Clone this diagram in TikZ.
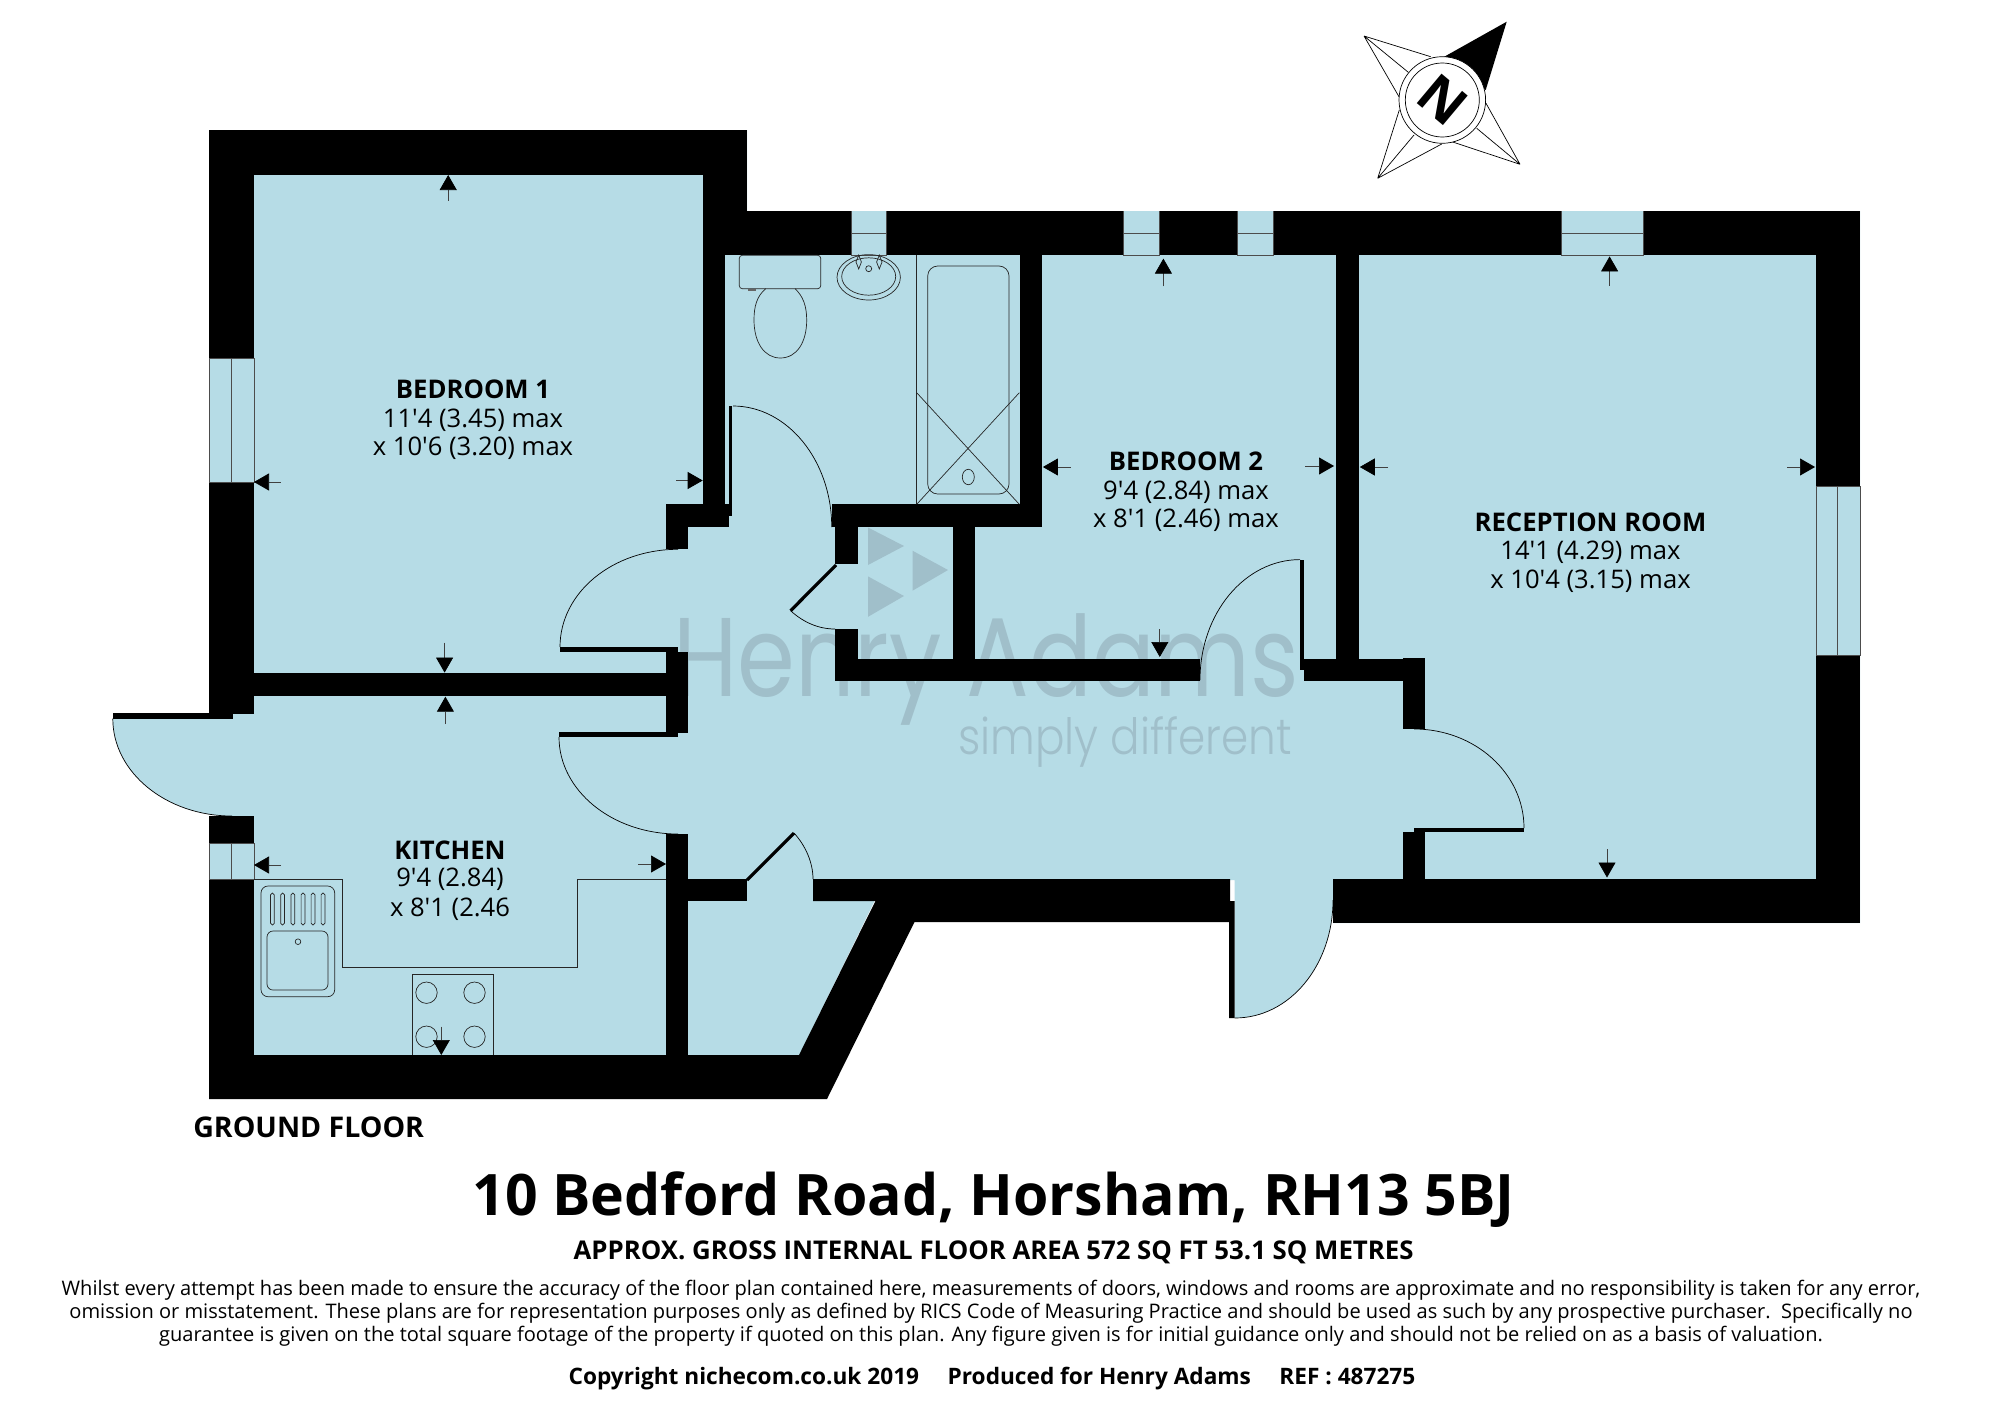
\documentclass[tikz,border=0pt]{standalone}
\usepackage{fontspec}
\usepackage{graphicx}
\usetikzlibrary{arrows.meta}
\newfontfamily\osfam{Open Sans}
\newfontfamily\wmfam{Poppins}
\newfontfamily\wmlight{Poppins Light}
\definecolor{floorblue}{HTML}{B6DCE6}
\definecolor{wmark}{HTML}{A0BFCA}
\tikzset{
  floorfill/.style={fill=floorblue},
  wall/.style={fill=black},
  thinline/.style={draw=black,line width=0.7pt},
  fixture/.style={draw=black!85,line width=0.7pt},
  winline/.style={draw=black!70,line width=0.7pt},
  leaf/.style={draw=black,line width=3.2pt},
  dimarrow/.style={draw=black!75,line width=0.7pt,-{Triangle[length=15pt,width=17pt,color=black]}},
  roomname/.style={inner sep=0pt,font=\osfam\bfseries\fontsize{25.7}{30}\selectfont},
  roomdim/.style={inner sep=0pt,font=\osfam\fontsize{25.6}{30}\selectfont},
  finep/.style={inner sep=0pt,font=\osfam\fontsize{20.05}{24}\selectfont},
  boldline/.style={inner sep=0pt,font=\osfam\bfseries\fontsize{25.8}{30}\selectfont},
  wmtext/.style={inner sep=0pt,text=wmark,anchor=base west},
}
\begin{document}
\begin{tikzpicture}[x=1pt,y=-1pt]
\fill[white] (0,0) rectangle (2000,1408);
\useasboundingbox (0,0) rectangle (2000,1408);
% floor
\fill[floorfill] (209,130)--(747,130)--(747,211)--(1860,211)--(1860,923)--(1333,923)--(1333,900)
  .. controls (1333,965) and (1290,1018) .. (1234.7,1018)--(1234.7,880)--(875,900)--(799,1056)--(209,1056)--(209,816)--(232,816)
  .. controls (166.2,816) and (112.8,772.4) .. (112.8,718.7)--(209,718)--cycle;
% watermark
\node[wmtext,font=\wmfam\fontsize{112}{112}\selectfont] (wm1) at (673,696) {\resizebox{626pt}{\height}{Henry Adams}};
\node[wmtext,font=\wmlight\fontsize{50}{50}\selectfont] (wm2) at (958,754) {\resizebox{334pt}{\height}{simply different}};
\fill[wmark] (868,527.5)--(904,546)--(868,565)--cycle;
\fill[wmark] (912.5,550.7)--(948,570)--(912.5,590.7)--cycle;
\fill[wmark] (868,576.4)--(904,596)--(868,616.8)--cycle;
% walls
\fill[wall] (209,130) rectangle (254,358);
\fill[wall] (209,482) rectangle (254,714);
\fill[wall] (209,130) rectangle (747,175);
\fill[wall] (702.7,130) rectangle (747,255);
\fill[wall] (702.7,175) rectangle (725,515);
\fill[wall] (209,816) rectangle (254,843);
\fill[wall] (209,879) rectangle (254,1099);
\fill[wall] (112.8,713) rectangle (232.6,718.7);
\fill[wall] (702.7,211) rectangle (851,255);
\fill[wall] (886.6,211) rectangle (1123,255);
\fill[wall] (1159,211) rectangle (1237.5,255);
\fill[wall] (1273.7,211) rectangle (1561,255);
\fill[wall] (1643,211) rectangle (1860,255);
\fill[wall] (1816,211) rectangle (1860,486);
\fill[wall] (1816,655) rectangle (1860,923);
\fill[wall] (1333,879) rectangle (1860,923);
\fill[wall] (688,879) rectangle (747,901);
\fill[wall] (813,879)--(1230,879)--(1230,901)--(1234.7,901)--(1234.7,1018)--(1229,1018)--(1229,922)--(914.5,922)--(827,1099)--(209,1099)--(209,1055)--(799,1055)--(875.5,901)--(813,901)--cycle;
\fill[wall] (254,673.3) rectangle (666,695.5);
\fill[wall] (666,652) rectangle (688.4,733);
\fill[wall] (666,834) rectangle (688.4,1055);
\fill[wall] (560,647) rectangle (678,652);
\fill[wall] (559,732) rectangle (678,737.3);
\fill[wall] (666,504) rectangle (688.4,549.3);
\fill[wall] (666,504) rectangle (728.6,527);
\fill[wall] (725,504) rectangle (732,516);
\fill[wall] (729,405.5) rectangle (732.2,516);
\fill[wall] (831.7,504) rectangle (1042,527);
\fill[wall] (1019.6,255) rectangle (1042,527);
\fill[wall] (835,527) rectangle (858,564);
\fill[wall] (835,629) rectangle (858,681);
\fill[wall] (953,527) rectangle (975.4,659);
\fill[wall] (835,658.6) rectangle (1200,681);
\fill[wall] (1300,559.6) rectangle (1304,670);
\fill[wall] (1303.6,658.6) rectangle (1425,681);
\fill[wall] (1336,255) rectangle (1359,681);
\fill[wall] (1402.6,658) rectangle (1425,729);
\fill[wall] (1402.6,832) rectangle (1425,879);
\fill[wall] (1414,827.5) rectangle (1524,831.8);
% windows
\draw[winline] (209,358) rectangle (254,482) (231.7,358)--(231.7,482);
\draw[winline] (209,843) rectangle (254,879) (231.6,843)--(231.6,879);
\draw[winline] (851,211)--(851,255)--(886.6,255)--(886.6,211) (851,233.6)--(886.6,233.6);
\draw[winline] (1123,211)--(1123,255)--(1159,255)--(1159,211) (1123,233.6)--(1159,233.6);
\draw[winline] (1237.5,211)--(1237.5,255)--(1273.7,255)--(1273.7,211) (1237.5,233.6)--(1273.7,233.6);
\draw[winline] (1561,211)--(1561,255)--(1643,255)--(1643,211) (1561,233.6)--(1643,233.6);
\draw[winline] (1816,486) rectangle (1860,655) (1837.6,486)--(1837.6,655);
% door arcs
\draw[thinline] (112.8,718.7) .. controls (112.8,772.4) and (166.2,816) .. (232,816);
\draw[thinline] (678,549.3) .. controls (612.8,549.3) and (560,592.4) .. (560,647);
\draw[thinline] (559,737) .. controls (559,790.6) and (612.3,834) .. (678,834);
\draw[thinline] (733,406) .. controls (787,406) and (831.7,460) .. (831.7,527);
\draw[leaf] (836,565)--(790.6,610.7);
\draw[thinline] (790.6,610.7) .. controls (803,622) and (818,629) .. (835,629);
\draw[thinline] (1300,559.6) .. controls (1245,559.6) and (1200,613) .. (1200,680);
\draw[thinline] (1414,729) .. controls (1474.8,729) and (1524,773.3) .. (1524,828);
\draw[leaf] (747,880)--(794,833);
\draw[thinline] (794,833) .. controls (805,845) and (813,862) .. (813,879);
\draw[thinline] (1234.7,1018) .. controls (1290,1018) and (1333,965) .. (1333,900);
% bathroom fixtures
\draw[fixture,rounded corners=3pt] (739.3,255.3) rectangle (820.7,288.7);
\fill[black!60] (748.3,288.7) rectangle (756,290.5);
\draw[fixture] (765.7,288.7) .. controls (757,296) and (754,306) .. (754,320) .. controls (754,342) and (764,358) .. (780.3,358) .. controls (797,358) and (806.7,342) .. (806.7,320) .. controls (806.7,306) and (803,296) .. (795,288.7);
\draw[fixture] (868.7,277.3) ellipse [x radius=31.7,y radius=22.7];
\draw[fixture] (868.7,276.5) ellipse [x radius=27,y radius=18.7];
\draw[fixture] (868.7,268.7) circle [radius=3];
\draw[fixture] (858.7,255)--(856,262)--(858.7,269)--(861.4,262)--cycle;
\draw[fixture] (879.3,255)--(876.6,262)--(879.3,269)--(882,262)--cycle;
\draw[fixture] (916.7,255)--(916.7,504.3);
\draw[fixture,rounded corners=10pt] (927.7,266) rectangle (1009,494);
\draw[fixture] (916.7,392.7)--(1019.3,504.3) (1019.3,392.7)--(916.7,504.3);
\draw[fixture] (968.3,477) ellipse [x radius=6,y radius=7.7];
% kitchen fixtures
\draw[fixture] (254,879)--(342.3,879)--(342.3,967)--(577.6,967)--(577.6,879)--(666,879);
\draw[fixture,rounded corners=7pt] (261,886) rectangle (334.7,996.7);
\draw[fixture,rounded corners=6pt] (267,931) rectangle (328,990);
\draw[fixture] (298,941.7) circle [radius=2.8];
\foreach \sx in {272.4,282.6,292.9,303,313,323}{
  \draw[fixture,rounded corners=1.8pt] (\sx-1.9,893) rectangle (\sx+1.9,925);
}
\draw[fixture] (412,1055)--(412,974)--(493,974)--(493,1055);
\foreach \hx/\hy in {426.5/992.7,474.5/992.7,426.5/1036.7,474.5/1036.7}{
  \draw[fixture] (\hx,\hy) circle [radius=10.7];
}
% dimension arrows
\draw[dimarrow] (448.2,200.7)--(448.2,175);
\draw[dimarrow] (444.6,642.7)--(444.6,672.6);
\draw[dimarrow] (280.8,482)--(254,482);
\draw[dimarrow] (676,480.5)--(702.7,480.5);
\draw[dimarrow] (445.4,724)--(445.4,696.7);
\draw[dimarrow] (441.3,1026.7)--(441.3,1055);
\draw[dimarrow] (281,865)--(254,865);
\draw[dimarrow] (638,864)--(666,864);
\draw[dimarrow] (1163.4,286.4)--(1163.4,258.6);
\draw[dimarrow] (1159.8,629.3)--(1159.8,657);
\draw[dimarrow] (1070.5,467)--(1042.9,467);
\draw[dimarrow] (1305,466)--(1334,466);
\draw[dimarrow] (1609.6,285.7)--(1609.6,256.4);
\draw[dimarrow] (1607,849)--(1607,877.5);
\draw[dimarrow] (1388,467)--(1359.8,467);
\draw[dimarrow] (1787,467)--(1815,467);
% compass
\fill[black] (1506.7,21.7)--(1444.3,56.7)--(1485.7,90)--cycle;
\draw[thinline] (1364,36)--(1430.7,56.7) (1364,36)--(1399.3,97.3) (1364,36)--(1408.3,72.3);
\draw[thinline] (1520,164.3)--(1486,103.3) (1520,164.3)--(1451.7,141.7) (1520,164.3)--(1476.7,128.3);
\draw[thinline] (1377.7,178.3)--(1399.3,110) (1377.7,178.3)--(1441.7,144) (1377.7,178.3)--(1414,135);
\draw[thinline,fill=white] (1442.3,100) circle [radius=43.3];
\draw[thinline] (1442.3,100) circle [radius=37];
\node[inner sep=0pt,rotate=-40,font=\osfam\bfseries\fontsize{54}{54}\selectfont] (north) at (1442.3,100) {N};
% room labels
\node[roomname] (bed1a) at (473,389.5) {BEDROOM 1};
\node[roomdim] (bed1b) at (473,420.2) {11'4 (3.45) max};
\node[roomdim] (bed1c) at (473,448.7) {x 10'6 (3.20) max};
\node[roomname] (bed2a) at (1186,461) {BEDROOM 2};
\node[roomdim] (bed2b) at (1186,492) {9'4 (2.84) max};
\node[roomdim] (bed2c) at (1186,520.2) {x 8'1 (2.46) max};
\node[roomname] (reca) at (1590.5,522.2) {RECEPTION ROOM};
\node[roomdim] (recb) at (1590.5,552.2) {14'1 (4.29) max};
\node[roomdim] (recc) at (1590.5,581.2) {x 10'4 (3.15) max};
\node[roomname] (kita) at (450,850) {KITCHEN};
\node[roomdim] (kitb) at (450,879.7) {9'4 (2.84)};
\node[roomdim] (kitc) at (450,909.2) {x 8'1 (2.46};
% footer
\node[boldline,font=\osfam\bfseries\fontsize{28.5}{33}\selectfont] (gf) at (308.7,1127.5) {GROUND FLOOR};
\node[inner sep=0pt,font=\osfam\bfseries\fontsize{57.2}{66}\selectfont] (title) at (993.6,1199.5) {10 Bedford Road, Horsham, RH13 5BJ};
\node[boldline] (area) at (993.6,1252) {APPROX. GROSS INTERNAL FLOOR AREA 572 SQ FT 53.1 SQ METRES};
\node[finep] (fp1) at (991,1290.5) {Whilst every attempt has been made to ensure the accuracy of the floor plan contained here, measurements of doors, windows and rooms are approximate and no responsibility is taken for any error,};
\node[finep] (fp2) at (991,1313.5) {omission or misstatement. These plans are for representation purposes only as defined by RICS Code of Measuring Practice and should be used as such by any prospective purchaser.\ \ Specifically no};
\node[finep] (fp3) at (991,1336.5) {guarantee is given on the total square footage of the property if quoted on this plan. Any figure given is for initial guidance only and should not be relied on as a basis of valuation.};
\node[boldline,font=\osfam\bfseries\fontsize{22.65}{26}\selectfont] (copy) at (992,1378.5) {Copyright nichecom.co.uk 2019\hspace{1em} Produced for Henry Adams\hspace{1em} REF : 487275};
\end{tikzpicture}
\end{document}
